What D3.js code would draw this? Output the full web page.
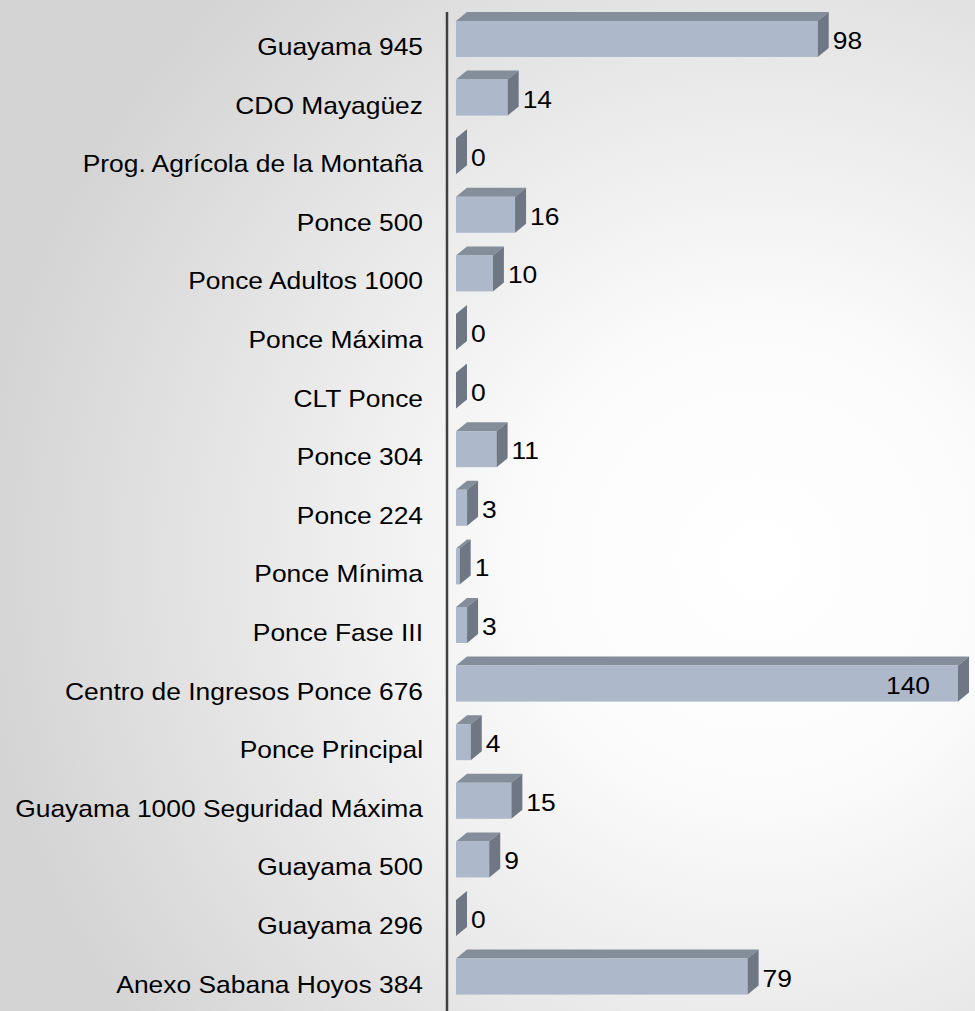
<!DOCTYPE html>
<html>
<head>
<meta charset="utf-8">
<script src="https://cdn.jsdelivr.net/npm/d3@7"></script>
<style>
  html, body { margin: 0; padding: 0; }
  body { width: 975px; height: 1011px; overflow: hidden; }
  text { font-family: "Liberation Sans", Arial, sans-serif; fill: #000; }
</style>
</head>
<body>
<script>
// categories top to bottom
const categories = [
  "Guayama 945", "CDO Mayagüez", "Prog. Agrícola de la Montaña", "Ponce 500",
  "Ponce Adultos 1000", "Ponce Máxima", "CLT Ponce", "Ponce 304", "Ponce 224",
  "Ponce Mínima", "Ponce Fase III", "Centro de Ingresos Ponce 676", "Ponce Principal",
  "Guayama 1000 Seguridad Máxima", "Guayama 500", "Guayama 296", "Anexo Sabana Hoyos 384"
];
const values = [98, 14, 0, 16, 10, 0, 0, 11, 3, 1, 3, 140, 4, 15, 9, 0, 79];

const data = categories.map((c, i) => ({ cat: c, value: values[i] }));

const width = 975, height = 1011;
const depthX = 11, depthY = 9;

// plot area clips the longest bar, like the original
const x = d3.scaleLinear().domain([0, 136]).range([456, 958]).clamp(true);
const y = d3.scaleBand().domain(categories).range([21, 994.6]).paddingInner(0.386).paddingOuter(0);

const svg = d3.select("body").append("svg")
    .attr("width", width)
    .attr("height", height);

const defs = svg.append("defs");
const grad = defs.append("radialGradient")
    .attr("id", "bg")
    .attr("gradientUnits", "userSpaceOnUse")
    .attr("cx", 760).attr("cy", 560).attr("r", 780);
grad.append("stop").attr("offset", "0%").attr("stop-color", "#ffffff");
grad.append("stop").attr("offset", "30%").attr("stop-color", "#fbfbfb");
grad.append("stop").attr("offset", "100%").attr("stop-color", "#d4d4d4");

svg.append("rect").attr("width", width).attr("height", height).attr("fill", "url(#bg)");

// bars
const bar = svg.append("g").selectAll("g")
  .data(data)
  .join("g");

// top face
bar.append("path")
    .attr("fill", "#848d9a")
    .attr("d", d => {
      const x0 = x(0), x1 = x(d.value), y0 = y(d.cat);
      return `M${x0},${y0}L${x0 + depthX},${y0 - depthY}L${x1 + depthX},${y0 - depthY}L${x1},${y0}Z`;
    });

// front face
bar.append("rect")
    .attr("x", x(0))
    .attr("y", d => y(d.cat))
    .attr("width", d => x(d.value) - x(0))
    .attr("height", y.bandwidth())
    .attr("fill", "#adb8ca");

// side face
bar.append("path")
    .attr("fill", "#6f7785")
    .attr("d", d => {
      const x1 = x(d.value), y0 = y(d.cat), y1 = y0 + y.bandwidth();
      return `M${x1},${y0}L${x1 + depthX},${y0 - depthY}L${x1 + depthX},${y1 - depthY}L${x1},${y1}Z`;
    });

// value labels
bar.append("text")
    .attr("transform", d => {
      const inside = x(d.value) >= x.range()[1];
      const tx = inside ? x(d.value) - 28 : x(d.value) + depthX + 4;
      return `translate(${tx},${y(d.cat) + y.bandwidth() / 2 + 10}) scale(1.1,1)`;
    })
    .attr("text-anchor", d => x(d.value) >= x.range()[1] ? "end" : "start")
    .attr("font-size", 24)
    .text(d => d.value);

// category labels
svg.append("g").selectAll("text")
  .data(data)
  .join("text")
    .attr("transform", d => `translate(423,${y(d.cat) + y.bandwidth() / 2 + 16}) scale(1.1,1)`)
    .attr("text-anchor", "end")
    .attr("font-size", 24)
    .text(d => d.cat);

// axis line
svg.append("line")
    .attr("x1", 447).attr("x2", 447)
    .attr("y1", 12).attr("y2", height)
    .attr("stroke", "#404040")
    .attr("stroke-width", 2.5);
</script>
</body>
</html>
